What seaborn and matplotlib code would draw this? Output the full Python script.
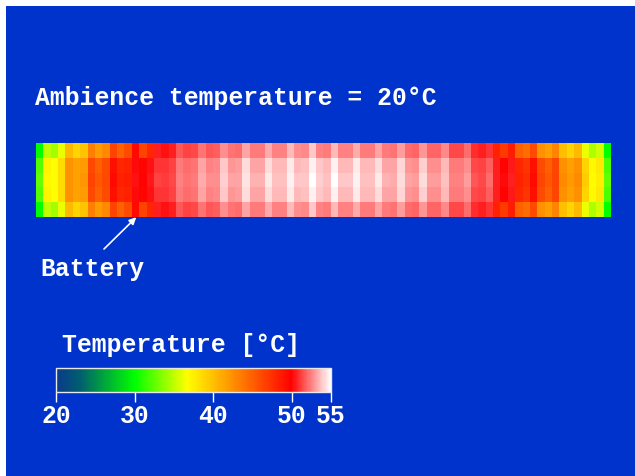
import matplotlib
matplotlib.use("Agg")
import matplotlib.pyplot as plt
import pandas as pd
import seaborn as sns
from matplotlib.colors import LinearSegmentedColormap
from matplotlib.patches import Rectangle

# Cell temperatures along the battery pack [°C]
edge_row = [30.0, 35.0, 34.3, 36.2, 40.3, 39.0, 39.8, 43.3, 42.0, 42.8,
            46.5, 45.0, 46.0, 49.5, 46.5, 48.0, 50.6, 50.3, 50.6, 51.7,
            51.2, 51.4, 52.2, 51.7, 51.8, 52.8, 52.2, 52.1, 53.1, 52.3,
            52.3, 53.3, 52.5, 52.5, 53.5, 52.7, 52.6, 53.8, 52.5, 52.4,
            53.5, 52.5, 52.5, 53.3, 52.4, 52.4, 53.2, 52.3, 52.2, 53.0,
            52.0, 51.9, 52.9, 51.9, 51.9, 52.6, 51.4, 51.4, 52.1, 50.8,
            50.6, 51.0, 48.2, 47.0, 48.5, 45.0, 44.3, 46.0, 42.5, 41.7,
            43.0, 40.0, 39.0, 40.3, 36.2, 34.6, 35.5, 30.0]
inner_row = [32.3, 37.3, 36.8, 38.5, 42.3, 41.5, 42.0, 46.2, 45.0, 46.0,
             49.2, 48.0, 48.2, 50.2, 49.8, 50.3, 51.0, 50.9, 51.2, 52.3,
             52.0, 52.2, 53.1, 52.5, 52.6, 53.8, 52.9, 53.0, 54.2, 53.2,
             53.2, 54.3, 53.5, 53.5, 54.5, 53.6, 53.7, 54.7, 53.8, 53.5,
             54.7, 53.6, 53.6, 54.5, 53.5, 53.5, 54.3, 53.2, 53.1, 54.1,
             52.9, 52.8, 54.0, 52.8, 52.8, 53.5, 52.3, 52.3, 52.8, 51.4,
             51.2, 51.8, 50.5, 50.0, 50.4, 48.0, 47.3, 49.2, 46.0, 45.0,
             46.3, 42.5, 41.7, 42.5, 39.0, 37.0, 37.8, 32.0]
center_row = [32.6, 37.0, 36.8, 38.5, 42.3, 41.6, 42.2, 46.4, 45.3, 46.2,
              49.4, 48.3, 48.5, 50.3, 50.0, 50.4, 51.2, 51.1, 51.4, 52.5,
              52.2, 52.4, 53.3, 52.7, 52.8, 54.0, 53.1, 53.2, 54.4, 53.4,
              53.4, 54.5, 53.7, 53.7, 54.7, 53.8, 53.9, 54.9, 54.0, 53.7,
              54.9, 53.8, 53.8, 54.7, 53.7, 53.7, 54.5, 53.4, 53.3, 54.3,
              53.1, 53.0, 54.2, 53.0, 53.0, 53.7, 52.5, 52.5, 53.0, 51.6,
              51.4, 52.0, 50.6, 50.1, 50.5, 48.3, 47.6, 49.4, 46.3, 45.3,
              46.5, 42.8, 42.0, 42.8, 39.3, 36.9, 37.6, 32.5]

ambient_temp = 20
t_min, t_max = 20, 55
cbar_ticks = [20, 30, 40, 50, 55]

# Colour scale anchors: temperature -> colour
scale_temps = [20, 23, 30, 36.7, 50, 55]
scale_colors = ["#0b3a8c", "#005e6e", "#00ff00", "#ffff00", "#ff0000", "#ffffff"]

temps = pd.DataFrame([edge_row, inner_row, center_row, inner_row, edge_row])

cmap = LinearSegmentedColormap.from_list(
    "thermal",
    [((t - t_min) / (t_max - t_min), c) for t, c in zip(scale_temps, scale_colors)],
)

plt.rcParams["font.family"] = ["Liberation Mono", "DejaVu Sans Mono"]
plt.rcParams["font.weight"] = "bold"

W, H = 635, 477
bg_blue = "#0033cc"
fs = 17.8

fig = plt.figure(figsize=(W / 100, H / 100), dpi=100, facecolor="white")
fig.add_artist(Rectangle((6 / W, 0), 1 - 6 / W, 1 - 7 / H,
                         transform=fig.transFigure, facecolor=bg_blue,
                         edgecolor="none", zorder=0))

ax = fig.add_axes([36 / W, 1 - 218.3 / H, 575 / W, 74.6 / H])
cax = fig.add_axes([56 / W, 1 - 393.3 / H, 275 / W, 24.3 / H])

sns.heatmap(temps, ax=ax, cmap=cmap, vmin=t_min, vmax=t_max,
            xticklabels=False, yticklabels=False, cbar_ax=cax,
            cbar_kws={"orientation": "horizontal", "ticks": cbar_ticks})
ax.set_xlabel("")
ax.set_ylabel("")
ax.set_facecolor(bg_blue)

cbar = ax.collections[0].colorbar
cbar.outline.set_edgecolor("#e8e8e8")
cbar.outline.set_linewidth(1.0)
cax.tick_params(axis="x", colors="white", length=7, width=1,
                direction="out", pad=1, labelsize=fs)
cax.set_xticklabels([str(t) for t in cbar_ticks])
for lbl in cax.get_xticklabels():
    lbl.set_fontweight("bold")
    lbl.set_color("white")

fig.text(35 / W, 1 - 105 / H, f"Ambience temperature = {ambient_temp}°C",
         color="white", fontsize=fs, fontweight="bold", va="baseline")
fig.text(40 / W, 1 - 276 / H, "Battery", color="white", fontsize=fs,
         fontweight="bold", va="baseline")
fig.text(62 / W, 1 - 352 / H, "Temperature [°C]", color="white",
         fontsize=fs, fontweight="bold", va="baseline")

ax.annotate("", xy=(13.6, 5.0), xycoords="data",
            xytext=(104, H - 250), textcoords="figure pixels",
            annotation_clip=False,
            arrowprops=dict(arrowstyle="-|>", color="white", lw=1.2,
                            mutation_scale=10, shrinkA=0, shrinkB=0))

fig.savefig("out.png", dpi=100, facecolor="white")
